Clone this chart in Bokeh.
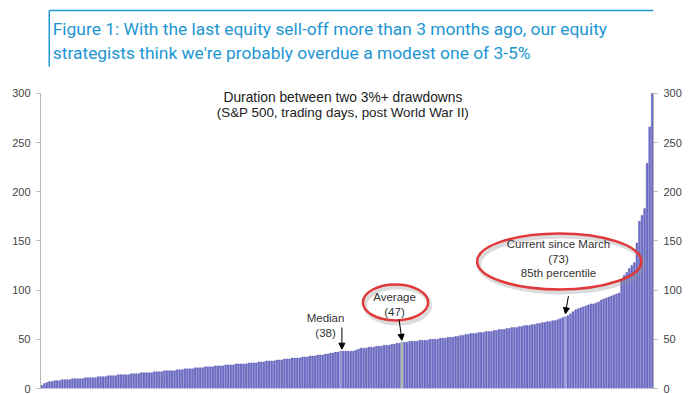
from bokeh.plotting import figure
from bokeh.models import (Range1d, LinearAxis, FixedTicker, Label, Arrow, NormalHead,
                          ColumnDataSource)
from bokeh.layouts import column
from bokeh.core.properties import value
from bokeh.embed import file_html
from bokeh.resources import INLINE

# ---------------- data ----------------
durations = [
    3, 5, 6, 7, 7, 8, 8, 8, 9, 9, 9, 9, 10, 10, 10, 10, 10, 11, 11, 11,
    11, 11, 12, 12, 12, 12, 13, 13, 13, 13, 14, 14, 14, 14, 14, 15, 15, 15, 15, 16,
    16, 16, 16, 16, 17, 17, 17, 17, 18, 18, 18, 18, 18, 19, 19, 19, 20, 20, 20, 20,
    21, 21, 21, 21, 22, 22, 22, 22, 23, 23, 23, 23, 24, 24, 24, 24, 25, 25, 25, 25,
    25, 26, 26, 26, 26, 27, 27, 27, 28, 28, 28, 28, 29, 29, 29, 30, 30, 30, 31, 31,
    31, 31, 32, 32, 32, 33, 33, 33, 34, 34, 34, 35, 35, 36, 36, 37, 37, 38, 38, 38,
    38, 38, 38, 39, 40, 41, 41, 41, 42, 42, 42, 43, 43, 43, 44, 44, 44, 45, 45, 46,
    46, 47, 47, 47, 48, 48, 48, 48, 49, 49, 49, 49, 50, 50, 50, 50, 51, 51, 51, 52,
    52, 52, 53, 53, 54, 54, 55, 55, 56, 56, 56, 57, 57, 57, 58, 58, 58, 59, 59, 60,
    60, 60, 61, 61, 62, 62, 62, 63, 63, 64, 64, 64, 65, 65, 66, 66, 67, 67, 68, 68,
    69, 69, 70, 71, 72, 73, 74, 76, 78, 80, 81, 82, 83, 84, 85, 86, 86, 87, 88, 90,
    91, 92, 93, 94, 95, 96, 97, 110, 115, 118, 122, 125, 128, 148, 170, 176, 183, 229, 266, 300,
]
median_idx = 117
average_idx = 141
current_idx = 205
y_ticks = [0, 50, 100, 150, 200, 250, 300]

header_lines = [
    "Figure 1: With the last equity sell-off more than 3 months ago, our equity",
    "strategists think we're probably overdue a modest one of 3-5%",
]
chart_title = ["Duration between two 3%+ drawdowns",
               "(S&P 500, trading days, post World War II)"]
median_text = ["Median", "(38)"]
average_text = ["Average", "(47)"]
current_text = ["Current since March", "(73)", "85th percentile"]

# ---------------- styles ----------------
TEAL = "#2196d3"
BAR = "#7070cb"
BAR_EDGE = "#4f4fa8"
RED = "#e0393a"
FONT = "Liberation Sans"

# ---------------- header ----------------
W = 700
HH = 78
hdr = figure(width=W, height=HH, x_range=Range1d(0, W), y_range=Range1d(0, HH),
             x_axis_location=None, y_axis_location=None, min_border=0,
             toolbar_location=None, output_backend="svg")
hdr.outline_line_color = None
hdr.xgrid.visible = False
hdr.ygrid.visible = False
hdr.segment(x0=[10, 10], y0=[68, 68], x1=[10, W], y1=[12, 68], line_color=TEAL, line_width=1.5)
hdr.text(x=[14, 14], y=[50, 26], text=header_lines, text_font=value("Roboto"),
         text_font_size="17.4px", text_color=TEAL, text_align="left", text_baseline="middle")

# ---------------- chart ----------------
n = len(durations)
p = figure(width=W, height=394 - HH, x_range=Range1d(-0.5, n - 0.5), y_range=Range1d(0, 306.1),
           x_axis_location=None, y_axis_location="left",
           min_border_left=40, min_border_right=47, min_border_top=9, min_border_bottom=6,
           toolbar_location=None, output_backend="svg")
p.outline_line_color = None
p.xgrid.visible = False
p.ygrid.visible = False

fills = [BAR] * n
fills[median_idx] = "#a2a2e4"
fills[average_idx] = "#c3dca6"
fills[current_idx] = "#acacea"
src = ColumnDataSource(dict(x=list(range(n)), top=durations, fill=fills))
p.vbar(x="x", top="top", width=0.72, source=src, fill_color="fill",
       line_color=BAR_EDGE, line_width=0.4)

right = LinearAxis()
p.add_layout(right, "right")
for ax in (p.yaxis[0], right):
    ax.ticker = FixedTicker(ticks=y_ticks)
    ax.bounds = (0, 300)
    ax.axis_line_color = "#b5b5b5"
    ax.major_tick_line_color = "#b5b5b5"
    ax.major_tick_out = 4
    ax.major_tick_in = 0
    ax.minor_tick_out = 0
    ax.minor_tick_in = 0
    ax.major_label_text_font = FONT
    ax.major_label_text_font_size = "11px"
    ax.major_label_text_color = "#444444"
    ax.major_label_standoff = 6

def lbl(x, y, t, size="11.5px", color="#333333"):
    p.add_layout(Label(x=x, y=y, text=t, text_font=FONT, text_font_size=size,
                       text_color=color, text_align="center", text_baseline="middle"))

lbl(117.9, 296, chart_title[0], "13.8px", "#222222")
lbl(117.9, 281, chart_title[1], "13.4px", "#222222")

# ellipses (with soft shadow)
ell_x = [138.5, 202.6]
ell_y = [87.5, 129.2]
ell_w = [25.5, 64.3]
ell_h = [36.6, 57.0]
p.ellipse(x=[v + 0.8 for v in ell_x], y=[v - 3 for v in ell_y], width=ell_w, height=ell_h,
          fill_color=None, line_color="#999999", line_alpha=0.35, line_width=4)
p.ellipse(x=ell_x, y=ell_y, width=ell_w, height=ell_h,
          fill_color=None, line_color=RED, line_width=2.5)

lbl(111.1, 71.2, median_text[0])
lbl(111.1, 56.0, median_text[1])
lbl(138.1, 92.6, average_text[0])
lbl(138.1, 77.3, average_text[1])
lbl(202.3, 146.5, current_text[0])
lbl(202.3, 131.2, current_text[1])
lbl(202.3, 117.0, current_text[2])

def arrow(x0, y0, x1, y1):
    p.add_layout(Arrow(end=NormalHead(size=6, fill_color="black", line_color="black"),
                       x_start=x0, y_start=y0, x_end=x1, y_end=y1,
                       line_color="black", line_width=1))

arrow(median_idx + 0.5, 62, median_idx + 0.5, 40)
arrow(139.9, 70, average_idx, 49)
arrow(206.2, 94, current_idx, 76)

layout = column(hdr, p, spacing=0)
open("out.html", "w").write(file_html(layout, INLINE))
